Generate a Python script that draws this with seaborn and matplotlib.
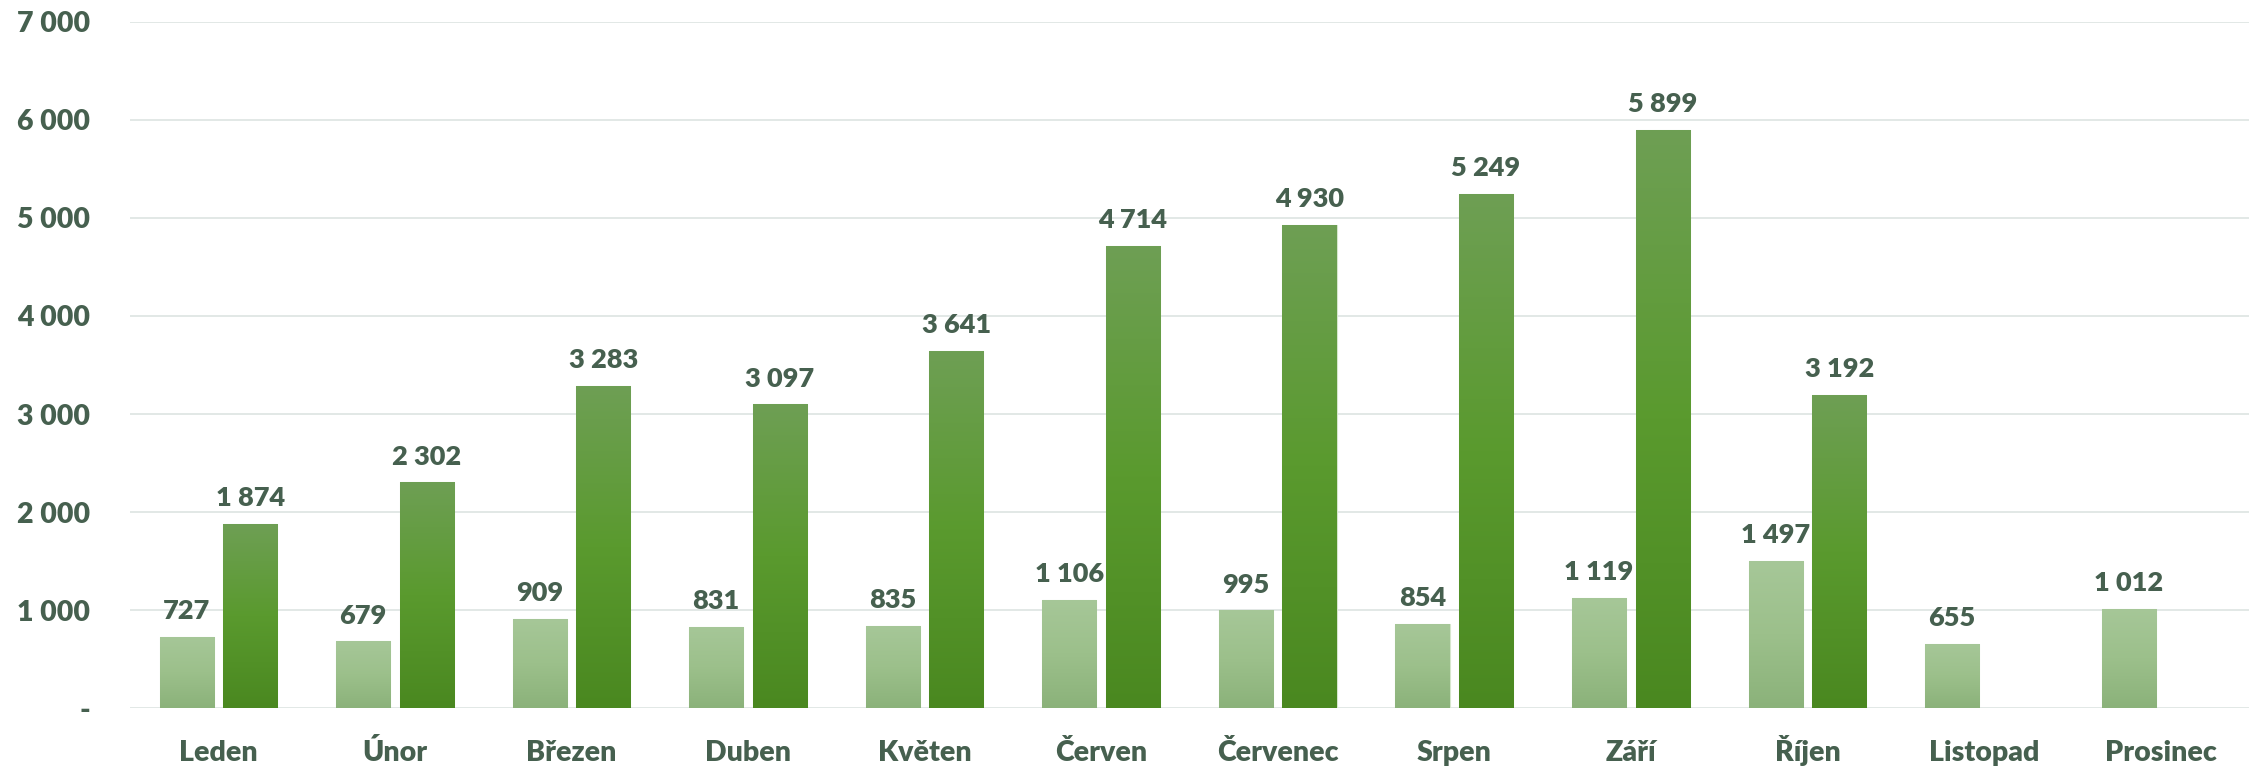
import numpy as np
import pandas as pd
import matplotlib.pyplot as plt
import matplotlib.colors as mcolors
from matplotlib.ticker import FuncFormatter
import seaborn as sns

# Data
months = ['Leden', 'Únor', 'Březen', 'Duben', 'Květen', 'Červen',
          'Červenec', 'Srpen', 'Září', 'Říjen', 'Listopad', 'Prosinec']
light_vals = [727, 679, 909, 831, 835, 1106, 995, 854, 1119, 1497, 655, 1012]
dark_vals = [1874, 2302, 3283, 3097, 3641, 4714, 4930, 5249, 5899, 3192, np.nan, np.nan]
series = ['light', 'dark']

sns.set_theme(style="white")
plt.rcParams['font.family'] = ['Lato', 'DejaVu Sans']
plt.rcParams['font.weight'] = 'heavy'

TEXT = '#46604f'
GRID = '#e2e8e6'
WEIGHT = 'heavy'

df = pd.DataFrame({
    'month': months * 2,
    'value': light_vals + dark_vals,
    'series': [series[0]] * len(months) + [series[1]] * len(months),
})

fig = plt.figure(figsize=(22.54, 7.66), dpi=100)
ax = fig.add_axes([0.0577, 0.0757, 0.94, 0.8956])

sns.barplot(data=df, x='month', y='value', hue='series', hue_order=series,
            order=months, width=0.72, gap=0.15, palette=['#9bc08a', '#5a9a2e'],
            edgecolor='#d6e6cd', linewidth=0.8, legend=False, ax=ax)

# gradient fills (top -> bottom) for each series
grads = {
    0: mcolors.LinearSegmentedColormap.from_list('lt', ['#a6c798', '#9cc08b', '#8bb27a']),
    1: mcolors.LinearSegmentedColormap.from_list('dk', ['#6e9f54', '#5a9a2e', '#4a8820']),
}
grad_arr = np.linspace(0, 1, 256).reshape(-1, 1)
for i, cont in enumerate(ax.containers):
    for bar in cont:
        h = bar.get_height()
        if not np.isfinite(h) or h <= 0:
            continue
        x0, y0, w = bar.get_x(), bar.get_y(), bar.get_width()
        im = ax.imshow(grad_arr, cmap=grads[i], aspect='auto',
                       extent=[x0, x0 + w, y0, y0 + h], origin='upper',
                       zorder=bar.get_zorder() + 0.1, interpolation='bilinear')
        im.set_clip_path(bar)

def fmt_num(v):
    return f"{v:,.0f}".replace(',', ' ')

for cont in ax.containers:
    labels = [fmt_num(b.get_height()) if np.isfinite(b.get_height()) else ''
              for b in cont]
    ax.bar_label(cont, labels=labels, padding=10, fontsize=19.5,
                 fontweight=WEIGHT, color=TEXT)

ax.set_xlim(-0.5, len(months) - 0.5)
ax.set_ylim(0, 7000)
ax.set_yticks(range(0, 7001, 1000))
ax.yaxis.set_major_formatter(FuncFormatter(lambda v, p: '-' if v == 0 else fmt_num(v)))
ax.grid(axis='y', color=GRID, linewidth=1.4)
ax.set_axisbelow(True)
ax.tick_params(axis='y', length=0, pad=29, labelsize=20.5, labelcolor=TEXT)
ax.tick_params(axis='x', length=0, pad=38, labelsize=20.5, labelcolor=TEXT)
for lab in ax.get_xticklabels():
    lab.set_fontweight(WEIGHT)
    lab.set_verticalalignment('baseline')
for lab in ax.get_yticklabels():
    lab.set_fontweight(WEIGHT)
ax.set_xlabel('')
ax.set_ylabel('')
sns.despine(ax=ax, left=True, bottom=True)

fig.savefig('out.png', dpi=100)
